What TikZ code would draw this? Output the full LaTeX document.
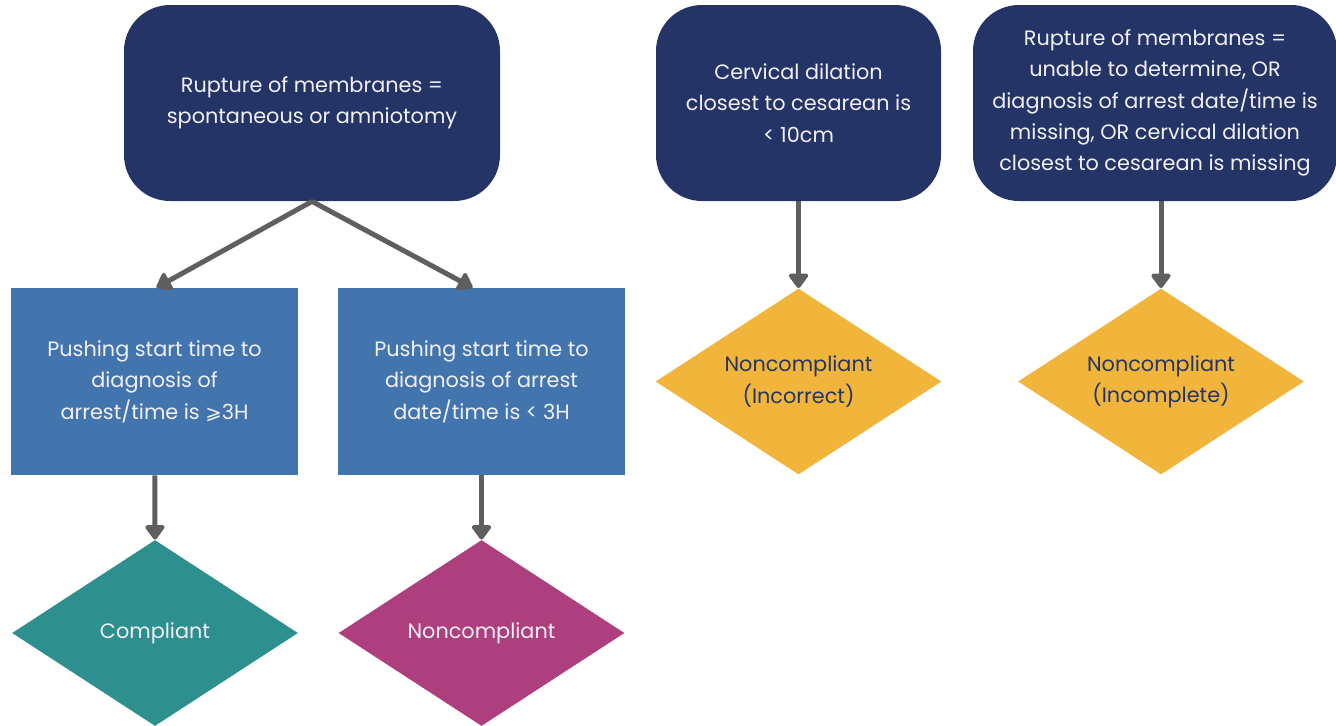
\documentclass[tikz,border=0pt]{standalone}
\usepackage{fontspec}
\setmainfont{Poppins}
\usetikzlibrary{shapes.geometric,arrows.meta}
\definecolor{navy}{HTML}{253466}
\definecolor{steel}{HTML}{4275AE}
\definecolor{teal}{HTML}{2E8F8F}
\definecolor{plum}{HTML}{AE3F7E}
\definecolor{amber}{HTML}{F2B53C}
\definecolor{arrowgray}{HTML}{5F5F5F}
\definecolor{paletext}{HTML}{F2F0F7}
\tikzset{
  boxtext/.style={text=paletext, align=center, inner sep=0pt, font=\fontsize{10.4}{15.7}\selectfont},
  rulebox/.style={boxtext, rectangle, rounded corners=23pt, fill=navy, minimum height=98pt},
  pushbox/.style={boxtext, rectangle, fill=steel, minimum width=143.5pt, minimum height=93.5pt},
  outcome/.style={boxtext, diamond, aspect=1.54, minimum width=143pt, minimum height=93pt},
  flow/.style={draw=arrowgray, line width=2.5pt, -{Triangle[width=11pt,length=8pt,round]}}
}
\begin{document}
\begin{tikzpicture}[x=0.5pt,y=-0.5pt]
  \useasboundingbox (0,0) rectangle (1336,725);

  % rule boxes on top
  \node[rulebox, minimum width=188pt] (rupture) at (312,103)
    {Rupture of membranes =\\spontaneous or amniotomy};
  \node[rulebox, minimum width=142.5pt] (dilation) at (798.5,103)
    {Cervical dilation\\closest to cesarean is\\< 10cm};
  \node[rulebox, minimum width=182pt] (missing) at (1155,103)
    {Rupture of membranes =\\unable to determine, OR\\diagnosis of arrest date/time is\\missing, OR cervical dilation\\closest to cesarean is missing};

  % pushing time boxes
  \node[pushbox] (pushlong) at (154.5,381.5)
    {Pushing start time to\\diagnosis of\\arrest/time is {\fontspec{DejaVu Sans}\fontsize{9.8}{15.7}\selectfont ⩾}3H};
  \node[pushbox] (pushshort) at (481.5,381.5)
    {Pushing start time to\\diagnosis of arrest\\date/time is < 3H};

  % outcomes
  \node[outcome, fill=teal] (compliant) at (155,633) {Compliant};
  \node[outcome, fill=plum] (noncompliant) at (481.5,633) {Noncompliant};
  \node[outcome, fill=amber, text=navy] (incorrect) at (798.5,381.5) {Noncompliant\\(Incorrect)};
  \node[outcome, fill=amber, text=navy] (incomplete) at (1161,381.5) {Noncompliant\\(Incomplete)};

  % connectors
  \draw[flow] (rupture.south) -- ([xshift=1pt]pushlong.north);
  \draw[flow] (rupture.south) -- ([xshift=-4.5pt]pushshort.north);
  \draw[flow] (pushlong) -- (compliant.north);
  \draw[flow] (pushshort) -- (noncompliant.north);
  \draw[flow] (dilation) -- (incorrect.north);
  \draw[flow] (missing.south -| incomplete.north) -- (incomplete.north);
\end{tikzpicture}
\end{document}
